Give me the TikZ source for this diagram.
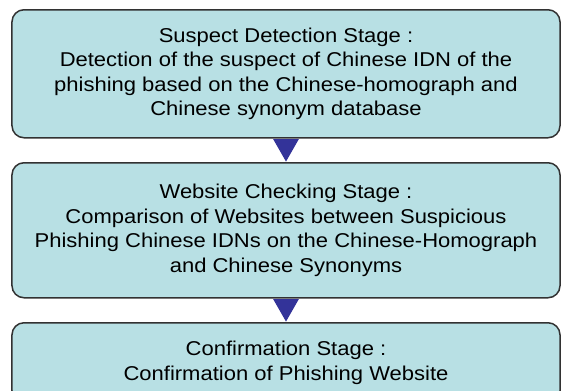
\documentclass[tikz,border=0pt]{standalone}
\usepackage{fontspec}
\setmainfont[FakeStretch=1.1]{Liberation Sans}
\usetikzlibrary{arrows.meta}
\definecolor{stagefill}{RGB}{184,224,228}
\definecolor{stageline}{RGB}{50,50,50}
\definecolor{flowblue}{RGB}{51,51,153}
\begin{document}
\begin{tikzpicture}[x=1bp, y=1bp,
    stage/.style={draw=stageline, fill=stagefill, line width=1.5bp, rounded corners=12bp, anchor=north,
      minimum width=548bp, inner sep=0pt, align=center, font=\fontsize{20bp}{24.5bp}\selectfont},
    flow/.style={draw=flowblue, line width=14bp, -{Triangle[width=24bp, length=23bp]}, shorten <=1bp}]
      \useasboundingbox (0,0) rectangle (562,-390);
      \clip (0,0) rectangle (562,-390);
      \coordinate (t1) at (286,-9);
      \coordinate (t2) at (286,-162);
      \coordinate (t3) at (286,-322);

      \node [stage, minimum height=128bp] (st1) at (t1) {Suspect Detection Stage :\\Detection of the suspect of Chinese IDN of the\\phishing based on the Chinese-homograph and\\Chinese synonym database};
      \node [stage, minimum height=135bp] (st2) at (t2) {Website Checking Stage :\\Comparison of Websites between Suspicious\\Phishing Chinese IDNs on the Chinese-Homograph\\and Chinese Synonyms};
      \node [stage, minimum height=80bp] (st3) at (t3) {Confirmation Stage :\\Confirmation of Phishing Website};
      \draw [flow] (st1.south) -- (st2.north);
      \draw [flow] (st2.south) -- (st3.north);
    \end{tikzpicture}
\end{document}
